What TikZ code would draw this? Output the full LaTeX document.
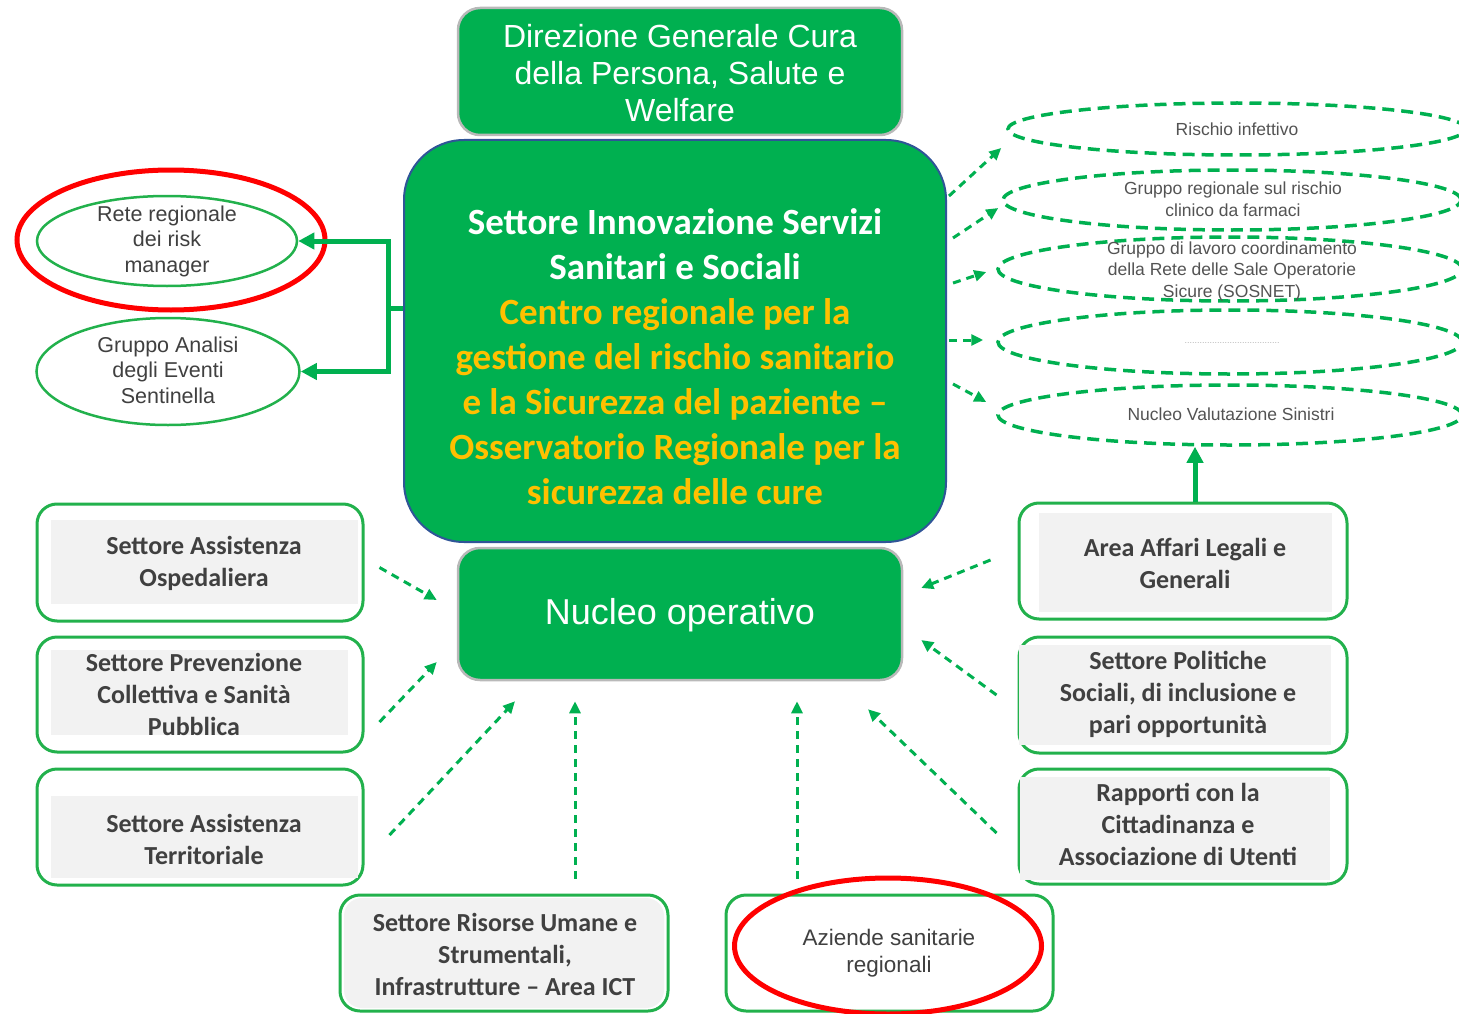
\documentclass[tikz,border=0pt]{standalone}
\usepackage{fontspec}
\setmainfont{Liberation Sans}
\newfontfamily\calfont{Carlito}
\usetikzlibrary{arrows.meta,shapes.geometric}
\definecolor{gfill}{HTML}{00B050}
\definecolor{gline}{HTML}{22B14C}
\definecolor{orng}{HTML}{FFC000}
\definecolor{navy}{HTML}{2F5597}
\definecolor{txt}{HTML}{404040}
\definecolor{boxgray}{HTML}{F2F2F2}
\tikzset{
  greenbox/.style={rounded corners=22pt, fill=gfill, draw=gray!55, line width=2.5pt, inner sep=0pt},
  wtext/.style={text=white, align=center, font=\fontsize{32}{37}\selectfont},
  sidebox/.style={draw=gline, line width=3pt, rounded corners=20pt, fill=white, inner sep=0pt},
  graybox/.style={fill=boxgray, inner sep=0pt},
  caltext/.style={text=txt, align=center, font=\calfont\bfseries\fontsize{26}{32}\selectfont},
  ell/.style={ellipse, draw=gline, line width=2.5pt, inner sep=0pt},
  dell/.style={ellipse, draw=gfill, line width=3.5pt, dash pattern=on 12pt off 7pt, inner sep=0pt},
  eltext/.style={text=txt, align=center, font=\fontsize{21.5}{25.5}\selectfont},
  rtext/.style={text=txt!90, align=center, font=\fontsize{17.5}{21.5}\selectfont},
  darr/.style={draw=gfill, line width=3pt, dash pattern=on 8pt off 6pt, -{Triangle[length=12pt,width=11pt]}},
  thickarr/.style={draw=gfill, line width=5pt, -{Triangle[length=16pt,width=16pt]}},
  redring/.style={ellipse, draw=red, line width=5pt, inner sep=0pt},
}
\begin{document}
\begin{tikzpicture}[x=1pt,y=-1pt]
\useasboundingbox (0,0) rectangle (1459,1014);

% top box
\node[greenbox, minimum width=444pt, minimum height=127pt] (dir) at (680,71.5) {};
\node[wtext] (dirt) at (680,73) {Direzione Generale Cura\\della Persona, Salute e\\Welfare};

% central box
\node[rounded corners=60pt, fill=gfill, draw=navy, line width=2pt, minimum width=542pt, minimum height=402pt, inner sep=0pt] (cbox) at (675,341) {};
\node[text=orng, align=center, font=\calfont\bfseries\fontsize{37}{45}\selectfont] (ctext) at (675,357)
 {\textcolor{white}{Settore Innovazione Servizi}\\\textcolor{white}{Sanitari e Sociali}\\Centro regionale per la\\gestione del rischio sanitario\\e la Sicurezza del paziente –\\Osservatorio Regionale per la\\sicurezza delle cure};

% nucleo operativo
\node[greenbox, minimum width=444pt, minimum height=132pt] (nuc) at (680,614) {};
\node[wtext, font=\fontsize{36}{42}\selectfont] (nuct) at (680,615) {Nucleo operativo};

% left ellipses
\node[ell, minimum width=260pt, minimum height=90pt] (rrm) at (167,241) {};
\node[eltext] (rrmt) at (167,241) {Rete regionale\\dei risk\\manager};
\node[redring, minimum width=308pt, minimum height=140pt] (red1) at (171,240) {};
\node[ell, minimum width=263pt, minimum height=107pt] (gae) at (168,371.5) {};
\node[eltext] (gaet) at (168,370) {Gruppo Analisi\\degli Eventi\\Sentinella};

\coordinate (jn) at (388,308);
\draw[draw=gfill, line width=5pt] (cbox.west |- jn) -- (jn);
\draw[thickarr, line join=miter] (jn) |- (rrm.east);
\draw[thickarr, line join=miter] (jn) |- (gae.east);

% right dashed ellipses
\node[dell, minimum width=458pt, minimum height=52pt] (r1) at (1237,129) {};
\node[rtext] (r1t) at (1237,129) {Rischio infettivo};
\node[dell, minimum width=458pt, minimum height=60pt] (r2) at (1232,200) {};
\node[rtext] (r2t) at (1233,199) {Gruppo regionale sul rischio\\clinico da farmaci};
\node[dell, minimum width=464pt, minimum height=64pt] (r3) at (1230,269) {};
\node[rtext] (r3t) at (1232,271) {Gruppo di lavoro coordinamento\\della Rete delle Sale Operatorie\\Sicure (SOSNET)};
\node[dell, minimum width=464pt, minimum height=64pt] (r4) at (1230,342) {};
\node[text=gray!60, font=\fontsize{9}{10}\selectfont] (r4t) at (1232,343) {......................................};
\node[dell, minimum width=464pt, minimum height=60pt] (r5) at (1230,415) {};
\node[rtext] (r5t) at (1231,414) {Nucleo Valutazione Sinistri};

\draw[darr] ([shift={(2,-145)}]cbox.east) -- ([shift={(-5,19)}]r1.west);
\draw[darr] ([shift={(6,-103)}]cbox.east) -- ([shift={(-3,8)}]r2.west);
\draw[darr] ([shift={(6,-58)}]cbox.east) -- ([shift={(-10,3)}]r3.west);
\draw[darr] ([shift={(2,-1)}]cbox.east) -- ([shift={(-13,-2)}]r4.west);
\draw[darr] ([shift={(6,43)}]cbox.east) -- ([shift={(-10,-13)}]r5.west);

% left boxes
\node[sidebox, minimum width=326pt, minimum height=117pt] (osp) at (200,562.5) {};
\node[graybox, minimum width=307pt, minimum height=84pt] (ospg) at (204.5,562) {};
\node[caltext] (ospt) at (204,563) {Settore Assistenza\\Ospedaliera};

\node[sidebox, minimum width=326pt, minimum height=115pt] (prev) at (200,694.5) {};
\node[graybox, minimum width=297pt, minimum height=85pt] (prevg) at (199.5,692.5) {};
\node[caltext] (prevt) at (194,694) {Settore Prevenzione\\Collettiva e Sanità\\Pubblica};

\node[sidebox, minimum width=326pt, minimum height=116pt] (terr) at (200,827) {};
\node[graybox, minimum width=307pt, minimum height=82pt] (terrg) at (204.5,837) {};
\node[caltext] (terrt) at (204,839) {Settore Assistenza\\Territoriale};

% right boxes
\node[sidebox, minimum width=328pt, minimum height=116pt] (area) at (1183,561) {};
\node[graybox, minimum width=293pt, minimum height=99pt] (areag) at (1185.5,562.5) {};
\node[caltext] (areat) at (1185,563) {Area Affari Legali e\\Generali};

\node[sidebox, minimum width=328pt, minimum height=116pt] (pol) at (1183,695) {};
\node[graybox, minimum width=312pt, minimum height=100pt] (polg) at (1175,695) {};
\node[caltext] (polt) at (1178,694) {Settore Politiche\\Sociali, di inclusione e\\pari opportunità};

\node[sidebox, minimum width=328pt, minimum height=115pt] (rapp) at (1183,826.5) {};
\node[graybox, minimum width=310pt, minimum height=103pt] (rappg) at (1175,828.5) {};
\node[caltext] (rappt) at (1178,824) {Rapporti con la\\Cittadinanza e\\Associazione di Utenti};

% bottom boxes
\node[sidebox, minimum width=328pt, minimum height=116pt] (ris) at (504,953) {};
\node[graybox, rounded corners=18pt, minimum width=320pt, minimum height=110pt] (risg) at (504,953) {};
\node[caltext] (rist) at (505,954) {Settore Risorse Umane e\\Strumentali,\\Infrastrutture – Area ICT};

\node[sidebox, minimum width=327pt, minimum height=116pt] (az) at (889.5,953) {};
\node[text=txt, align=center, font=\fontsize{22.5}{27}\selectfont] (azt) at (889,953.5) {Aziende sanitarie\\regionali};
\node[redring, minimum width=307pt, minimum height=136pt] (red2) at (888,946) {};

\draw[thickarr] ([xshift=12pt]area.north) -- ([xshift=12pt]area.north |- r5.south);

% dashed arrows to nucleo
\draw[darr] ([shift={(15,5)}]osp.east) -- ([shift={(-20,-14)}]nuc.west);
\draw[darr] ([shift={(15,27.5)}]prev.east) -- ([shift={(-20,48)}]nuc.west);
\draw[darr] ([shift={(25,8)}]terr.east) -- ([shift={(-165,20)}]nuc.south);
\draw[darr] ([shift={(71,-15)}]ris.north) -- ([shift={(-105,20)}]nuc.south);
\draw[darr] ([shift={(-92.5,-15)}]az.north) -- ([shift={(117,20)}]nuc.south);
\draw[darr] ([shift={(-21,6.5)}]rapp.west) -- ([shift={(188,28)}]nuc.south);
\draw[darr] ([shift={(-21,0)}]pol.west) -- ([shift={(18,26)}]nuc.east);
\draw[darr] ([shift={(-27,-1)}]area.west) -- ([shift={(18,-26)}]nuc.east);
\end{tikzpicture}
\end{document}
